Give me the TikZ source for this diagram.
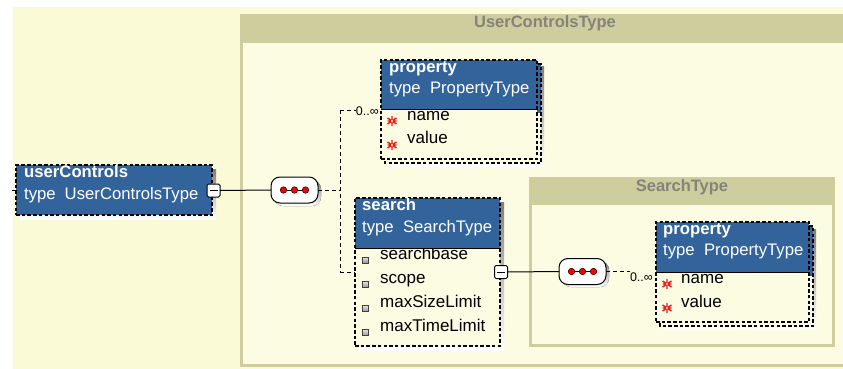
\documentclass[tikz,border=0pt]{standalone}
\usepackage{fontspec}
\setmainfont{Liberation Sans}
\usetikzlibrary{calc}

\definecolor{bgyel}{RGB}{250,250,214}
\definecolor{inyel}{RGB}{252,252,226}
\definecolor{khaki}{RGB}{205,205,158}
\definecolor{hblue}{RGB}{50,99,155}
\definecolor{shade}{RGB}{204,204,190}
\definecolor{titlegray}{RGB}{132,132,122}
\definecolor{astred}{RGB}{238,24,24}
\definecolor{dotred}{RGB}{230,10,10}

\tikzset{
  dashbox/.style={draw=black, line width=1.1pt, dash pattern=on 3.5pt off 2.2pt},
  conn/.style={draw=black, line width=1pt, dash pattern=on 4pt off 3pt},
  link/.style={draw=black, line width=1pt},
  elbox/.style={dashbox, rectangle, inner sep=0pt, outer sep=0pt, anchor=north west},
  namebold/.style={text=white, font=\fontsize{16.7}{19}\selectfont\bfseries, anchor=base west, inner sep=0pt},
  typetext/.style={text=white, font=\fontsize{16.7}{19}\selectfont, anchor=base west, inner sep=0pt},
  childtext/.style={text=black, font=\fontsize{17}{20}\selectfont, anchor=base west, inner sep=0pt},
  typetitle/.style={text=titlegray, font=\fontsize{16.5}{19}\selectfont\bfseries, anchor=base, inner sep=0pt},
  occ/.style={font=\fontsize{12.5}{13}\selectfont, anchor=east, inner sep=0pt},
  minusbox/.style={draw=black, fill=white, line width=1pt, rounded corners=1.5pt, minimum width=13pt, minimum height=13pt, inner sep=0pt, outer sep=0pt},
  seqbox/.style={draw=black, fill=white, line width=1pt, rounded corners=9pt, minimum width=47pt, minimum height=26pt, inner sep=0pt, outer sep=0pt},
}

% back copy of an element that may occur many times: x, y, width, height, header height
\newcommand{\repback}[5]{%
  \fill[shade] (#1+7,#2+7) rectangle ++(#3,#4);
  \fill[inyel] (#1+4,#2+4) rectangle ++(#3,#4);
  \fill[hblue] (#1+4,#2+4) rectangle ++(#3,#5);
  \draw[dashbox] (#1+4,#2+4) rectangle ++(#3,#4);
}
% header band of an element box: x, y, width, header height
\newcommand{\elhead}[4]{%
  \fill[hblue] (#1,#2) rectangle ++(#3,#4);
  \draw[link] (#1,#2+#4) -- ++(#3,0);
}
% required child marker
\newcommand{\reqmark}[2]{%
  \draw[astred, line width=1.4pt] (#1,#2-5) -- (#1,#2+5)
    (#1-4.5,#2-3) -- (#1+4.5,#2+3) (#1-4.5,#2+3) -- (#1+4.5,#2-3)
    (#1-4.5,#2) -- (#1+4.5,#2);
  \fill[inyel] (#1,#2) circle (1.1pt);
}
% optional child marker
\newcommand{\optmark}[2]{%
  \shade[top color=gray!20, bottom color=gray!85, draw=black!75, line width=0.6pt]
    (#1-3,#2-3) rectangle (#1+3,#2+3);
}
% three linked dots of a sequence compositor
\newcommand{\seqdots}[1]{%
  \draw[line width=1pt] ($(#1.center)+(-11,0)$) -- ($(#1.center)+(11,0)$);
  \foreach \dx in {-11,0,11}{%
    \filldraw[fill=dotred, draw=black!60!red, line width=0.7pt] ($(#1.center)+(\dx,0)$) circle (3.2pt);}
}

\begin{document}
\begin{tikzpicture}[x=1pt,y=-1pt]
\useasboundingbox (0,0) rectangle (843,369);
\fill[white] (0,0) rectangle (843,369);
\fill[bgyel] (13,7) rectangle (843,369);

% complex type UserControlsType
\fill[khaki] (240,14) rectangle (843,367);
\fill[inyel] (243,43) rectangle (843,364);
\node[typetitle] (uctitle) at (545,28) {UserControlsType};

% complex type SearchType
\fill[khaki] (529,177) rectangle (835,347);
\fill[inyel] (532,205) rectangle (832,344);
\node[typetitle] (sttitle) at (682,191) {SearchType};

% element userControls
\fill[shade] (20,169) rectangle ++(196,50);
\node[elbox, fill=hblue, minimum width=196pt, minimum height=50pt] (uc) at (16,165) {};
\node[namebold] (ucname) at (24,177) {userControls};
\node[typetext] (uctype) at (24,199) {type\hspace{9pt}UserControlsType};
\node[minusbox] (m1) at (213.5,190.5) {};
\draw[link] ($(m1.center)+(-4,0)$) -- ($(m1.center)+(4,0)$);
\coordinate (ucin) at (12,190);
\draw[link] (ucin) -- (uc.west |- ucin);

% sequence of UserControlsType
\fill[shade, rounded corners=9pt] (274,180) rectangle ++(47,26);
\node[seqbox] (s1) at (294.5,190) {};
\seqdots{s1}
\draw[link] (m1.east) -- (s1.west);

\coordinate (br) at (340,190);
\coordinate (brtop) at (340,110);
\coordinate (brbot) at (340,272);
\draw[conn] (s1.east) -- (br);
\draw[conn] (brtop) -- (brbot);

% element property (0..unbounded)
\repback{381}{60}{156}{99}{49}
\fill[inyel] (381,60) rectangle ++(156,99);
\node[childtext] (p1a) at (407,120) {name};
\node[childtext] (p1b) at (407,143) {value};
\reqmark{392}{121}
\reqmark{392}{145}
\elhead{381}{60}{156}{49}
\node[elbox, minimum width=156pt, minimum height=99pt] (p1) at (381,60) {};
\node[namebold] (p1name) at (389,73) {property};
\node[typetext] (p1type) at (389,93) {type~~PropertyType};
\node[occ] (o1) at (379,111) {0..∞};
\draw[conn] (brtop) -- (o1.west |- brtop);

% element search
\fill[shade] (359,202) rectangle ++(145,148);
\fill[inyel] (355,198) rectangle ++(145,148);
\node[childtext] (sa) at (380,259) {searchbase};
\node[childtext] (sb) at (380,283) {scope};
\node[childtext] (sc) at (380,307) {maxSizeLimit};
\node[childtext] (sd) at (380,331) {maxTimeLimit};
\optmark{365}{260}
\optmark{365}{284.5}
\optmark{365}{308.5}
\optmark{365}{332.5}
\elhead{355}{198}{145}{50}
\node[elbox, minimum width=145pt, minimum height=148pt] (srch) at (355,198) {};
\node[namebold] (srname) at (362,210) {search};
\node[typetext] (srtype) at (362,232) {type~~SearchType};
\draw[conn] (brbot) -- (srch.west |- brbot);
\node[minusbox] (m2) at (501,272) {};
\draw[link] ($(m2.center)+(-4,0)$) -- ($(m2.center)+(4,0)$);

% sequence of SearchType
\fill[shade, rounded corners=9pt] (562,261) rectangle ++(47,26);
\node[seqbox] (s2) at (582.5,271.5) {};
\seqdots{s2}
\draw[link] (m2.east) -- (s2.west);

% element property inside SearchType (0..unbounded)
\repback{656}{222}{153}{100}{50}
\fill[inyel] (656,222) rectangle ++(153,100);
\node[childtext] (p2a) at (681,283) {name};
\node[childtext] (p2b) at (681,307) {value};
\reqmark{667}{284}
\reqmark{667}{308}
\elhead{656}{222}{153}{50}
\node[elbox, minimum width=153pt, minimum height=100pt] (p2) at (656,222) {};
\node[namebold] (p2name) at (663,234) {property};
\node[typetext] (p2type) at (663,255) {type~~PropertyType};
\node[occ] (o2) at (653,277) {0..∞};
\draw[conn] (s2.east) -- (o2.west |- s2.east);
\end{tikzpicture}
\end{document}
